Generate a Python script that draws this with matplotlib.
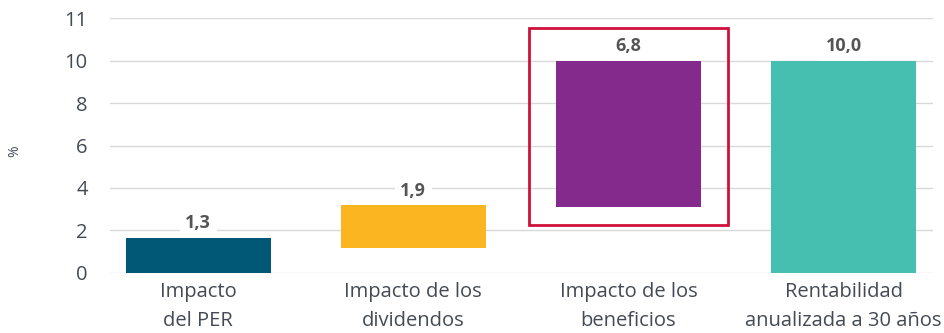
import matplotlib
matplotlib.use("Agg")
import matplotlib.pyplot as plt
from matplotlib.patches import Rectangle

# data (waterfall: bottoms and tops of each bar)
categories = ["Impacto\ndel PER", "Impacto de los\ndividendos", "Impacto de los\nbeneficios",
              "Rentabilidad\nanualizada a 30 años"]
bar_bottoms = [0.0, 1.18, 3.11, 0.0]
bar_tops = [1.64, 3.19, 10.0, 10.0]
value_labels = ["1,3", "1,9", "6,8", "10,0"]
bar_colors = ["#005876", "#fbb520", "#832a8c", "#46bfb0"]
ytick_pos = [0, 2, 4, 6, 8, 10, 12]
ytick_labels = ["0", "2", "4", "6", "8", "10", "11"]
highlight_idx = 2

plt.rcParams['font.family'] = ['Open Sans', 'DejaVu Sans']

fig = plt.figure(figsize=(9.45, 3.33), dpi=100)
ax = fig.add_axes([0.1164, 0.181, 0.8709, 0.764])

x = list(range(len(categories)))
heights = [t - b for t, b in zip(bar_tops, bar_bottoms)]
ax.bar(x, heights, bottom=bar_bottoms, width=0.673, color=bar_colors, zorder=3)

for xi, top, lab in zip(x, bar_tops, value_labels):
    ax.annotate(lab, (xi, top), xytext=(0, 10.5), textcoords="offset points",
                ha="center", va="center", fontsize=13, fontweight="bold", color="#555555",
                bbox=dict(boxstyle="square,pad=0.3", fc="white", ec="none"), zorder=4)

# highlight box round the earnings bar
hx = highlight_idx
ax.add_patch(Rectangle((hx - 0.462, 2.25), 0.926, 11.54 - 2.25, fill=False,
                       ec="#d0103a", lw=2, zorder=5, clip_on=False))

ax.set_xlim(-0.41, 3.416)
ax.set_ylim(0, 12)
ax.set_yticks(ytick_pos)
ax.set_yticklabels(ytick_labels)
ax.set_xticks(x)
ax.set_xticklabels(categories, linespacing=1.6)
ax.tick_params(axis="y", length=0, pad=16, labelsize=14.5, labelcolor="#444a55")
ax.tick_params(axis="x", length=0, pad=7, labelsize=14.5, labelcolor="#444a55")
ax.grid(axis="y", color="#d9d9d9", lw=1, zorder=0)
for s in ax.spines.values():
    s.set_visible(False)

fig.text(0.016, 0.545, "%", rotation=90, ha="center", va="center", fontsize=10, color="#444a55")

fig.savefig("out.png", dpi=100)
